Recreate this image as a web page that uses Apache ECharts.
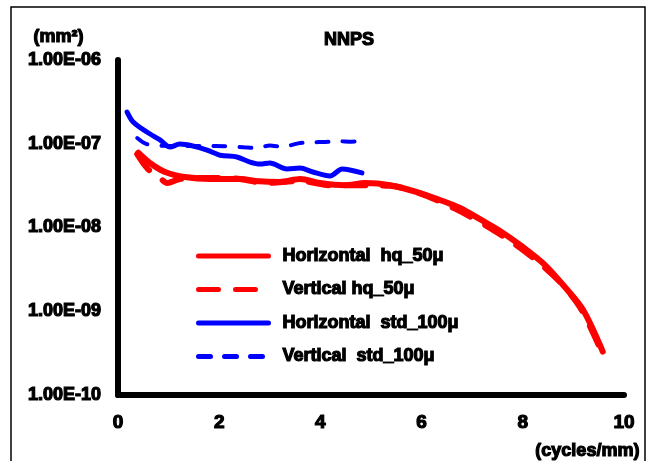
<!DOCTYPE html>
<html>
<head>
<meta charset="utf-8">
<title>NNPS</title>
<script src="https://cdn.jsdelivr.net/npm/echarts@6/dist/echarts.min.js"></script>
<style>
  html, body { margin: 0; padding: 0; background: #fff; }
  #main { width: 654px; height: 461px; }
</style>
</head>
<body>
<div id="main"></div>
<script>
// 图例名称
var seriesNames = ['Horizontal  hq_50μ', 'Vertical hq_50μ', 'Horizontal  std_100μ', 'Vertical  std_100μ']

// [空间频率 cycles/mm, NNPS mm²]
var hqHorizontal = [
  [0.40, 7.8e-8], [0.63, 5.9e-8], [0.93, 4.6e-8], [1.32, 4.0e-8], [1.82, 3.8e-8],
  [2.41, 3.8e-8], [2.71, 3.6e-8], [3.20, 3.5e-8], [3.60, 3.8e-8], [3.99, 3.4e-8],
  [4.49, 3.2e-8], [4.88, 3.4e-8], [5.38, 3.2e-8], [5.91, 2.65e-8], [6.36, 2.13e-8],
  [6.76, 1.71e-8], [7.15, 1.26e-8], [7.55, 9.1e-9], [8.00, 5.85e-9], [8.44, 3.56e-9],
  [8.83, 1.95e-9], [9.19, 1.04e-9], [9.58, 3.3e-10]
]
var hqVertical = [
  [0.38, 7.5e-8], [0.59, 5.0e-8], [0.83, 3.9e-8], [0.97, 3.4e-8], [1.23, 3.8e-8],
  [1.82, 3.9e-8], [2.41, 3.8e-8], [2.91, 3.4e-8], [3.60, 3.6e-8], [4.19, 3.2e-8],
  [4.78, 3.2e-8], [5.38, 3.15e-8], [5.97, 2.55e-8], [6.66, 1.68e-8], [7.35, 9.9e-9],
  [8.04, 5.2e-9], [8.70, 2.35e-9], [9.13, 1.12e-9], [9.53, 3.6e-10]
]
var stdHorizontal = [
  [0.18, 2.39e-7], [0.30, 1.82e-7], [0.57, 1.38e-7], [0.83, 1.11e-7], [1.03, 9.15e-8],
  [1.22, 9.9e-8], [1.48, 9.4e-8], [1.76, 8.4e-8], [2.02, 7.3e-8], [2.35, 6.95e-8],
  [2.61, 6.05e-8], [2.81, 5.73e-8], [3.00, 5.9e-8], [3.34, 5.0e-8], [3.60, 5.13e-8],
  [3.85, 4.6e-8], [4.19, 4.12e-8], [4.43, 5.0e-8], [4.82, 4.48e-8]
]
var stdVertical = [
  [0.38, 1.17e-7], [0.57, 9.9e-8], [1.00, 9.4e-8], [1.92, 9.4e-8], [2.47, 9.1e-8],
  [2.71, 8.9e-8], [3.00, 9.5e-8], [3.26, 9.2e-8], [3.56, 1.01e-7], [3.79, 1.04e-7],
  [4.09, 1.05e-7], [4.35, 1.07e-7], [4.62, 1.06e-7], [4.82, 1.08e-7]
]

// 坐标轴刻度
var xTicks = [0, 2, 4, 6, 8, 10]
var yTickLabels = ['1.00E-10', '1.00E-09', '1.00E-08', '1.00E-07', '1.00E-06']

var fontFamily = '"Liberation Sans", Arial, sans-serif'
function boldText(size) {
  return {
    color: '#000',
    fontFamily: fontFamily,
    fontWeight: 'bold',
    fontSize: size,
    textBorderColor: '#000',
    textBorderWidth: 1.2
  }
}

var chartObj = echarts.init(document.getElementById('main'))

var option = {
  animation: false,
  backgroundColor: '#fff',
  title: {
    text: 'NNPS',
    left: 324,
    top: 31,
    padding: 0,
    textStyle: boldText(18)
  },
  legend: {
    orient: 'vertical',
    left: 196,
    top: 246,
    padding: 0,
    itemWidth: 70,
    itemHeight: 14,
    itemGap: 13.5,
    data: seriesNames,
    lineStyle: { width: 5 },
    itemStyle: { opacity: 0 },
    textStyle: Object.assign(boldText(18), { lineHeight: 20, padding: [0, 0, 0, 9] })
  },
  grid: {
    left: 118,
    right: 30,
    top: 60,
    bottom: 66,
    containLabel: false
  },
  xAxis: {
    type: 'value',
    min: xTicks[0],
    max: xTicks[xTicks.length - 1],
    interval: 2,
    axisLine: { show: true, onZero: false, lineStyle: { color: '#000', width: 6 } },
    axisTick: { show: false },
    splitLine: { show: false },
    axisLabel: Object.assign(boldText(19), { margin: 18 })
  },
  yAxis: {
    type: 'log',
    logBase: 10,
    min: 1e-10,
    max: 1e-6,
    axisLine: { show: true, lineStyle: { color: '#000', width: 6 } },
    axisTick: { show: false },
    splitLine: { show: false },
    minorTick: { show: false },
    axisLabel: Object.assign(boldText(18), {
      margin: 17,
      formatter: function(value) {
        var idx = Math.round(Math.log10(value)) + 10
        return yTickLabels[idx] || ''
      }
    })
  },
  graphic: [
    {
      type: 'rect',
      shape: { x: 11, y: 7, width: 634, height: 480 },
      style: { fill: 'none', stroke: '#000', lineWidth: 1.5 },
      silent: true
    },
    {
      type: 'text',
      left: 33,
      top: 27,
      style: {
        text: '(mm²)', fill: '#000', fontFamily: fontFamily, fontWeight: 'bold',
        fontSize: 18, stroke: '#000', lineWidth: 1.2
      }
    },
    {
      type: 'text',
      right: 14,
      top: 441,
      style: {
        text: '(cycles/mm)', fill: '#000', fontFamily: fontFamily, fontWeight: 'bold',
        fontSize: 18, stroke: '#000', lineWidth: 1.2
      }
    }
  ],
  series: [
    {
      name: seriesNames[0],
      type: 'line',
      data: hqHorizontal,
      symbol: 'none',
      smooth: 0.3,
      color: '#ff0000',
      lineStyle: { width: 6, color: '#ff0000', cap: 'round', join: 'round' }
    },
    {
      name: seriesNames[1],
      type: 'line',
      data: hqVertical,
      symbol: 'none',
      smooth: 0.3,
      color: '#ff0000',
      lineStyle: { width: 6, color: '#ff0000', type: [20, 17], cap: 'round', join: 'round' }
    },
    {
      name: seriesNames[2],
      type: 'line',
      data: stdHorizontal,
      symbol: 'none',
      smooth: 0.3,
      color: '#0000ff',
      lineStyle: { width: 5, color: '#0000ff', cap: 'round', join: 'round' }
    },
    {
      name: seriesNames[3],
      type: 'line',
      data: stdVertical,
      symbol: 'none',
      smooth: 0.3,
      color: '#0000ff',
      lineStyle: { width: 4, color: '#0000ff', type: [12, 14], cap: 'round', join: 'round' }
    }
  ]
}

chartObj.setOption(option, true)
</script>
</body>
</html>
